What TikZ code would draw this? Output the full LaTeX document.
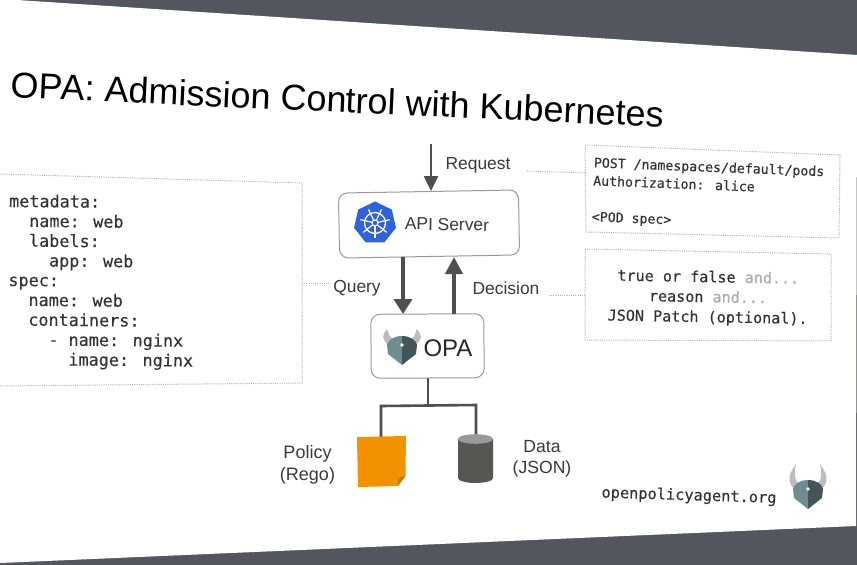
\documentclass[tikz,border=0pt]{standalone}
\usepackage{fontspec}
\setmainfont{Liberation Sans}
\newfontfamily\codefont[FakeBold=0.2]{DejaVu Sans Mono}
\usetikzlibrary{arrows.meta,shapes.geometric}
\definecolor{bandgray}{HTML}{53565F}
\definecolor{inkdark}{HTML}{3A3A3A}
\definecolor{arrowgray}{HTML}{4F4F4F}
\definecolor{boxedge}{HTML}{9A9A9A}
\definecolor{dotgray}{HTML}{B0B0B0}
\definecolor{kubeblue}{HTML}{2F62DC}
\definecolor{policyorange}{HTML}{F39200}
\definecolor{foldorange}{HTML}{B9801F}
\definecolor{cylbody}{HTML}{555753}
\definecolor{cyltop}{HTML}{999999}
\definecolor{shieldl}{HTML}{6F8C93}
\definecolor{shieldr}{HTML}{44555A}
\definecolor{horngray}{HTML}{B9BDBD}
\newcommand{\sz}[1]{\fontsize{#1}{#1}\selectfont}
\newcommand{\andmore}{\textcolor{gray!65}{and...}}
\newcommand{\tipx}{12}
\newcommand{\tipy}{-16}
\newcommand{\bulgey}{-5}
\tikzset{
  servicebox/.style={draw=boxedge,line width=1pt,rounded corners=9pt,fill=white,inner sep=0pt},
  dotline/.style={draw=dotgray,line width=1pt,dash pattern=on 1pt off 1.2pt},
  flowthick/.style={draw=arrowgray,line width=4.6pt,-{Triangle[length=15pt,width=18pt]}},
  flowback/.style={draw=arrowgray,line width=3.8pt,-{Triangle[length=17pt,width=17pt]}},
  flowthin/.style={draw=arrowgray,line width=2.5pt,-{Triangle[length=15pt,width=14pt]}},
  bus/.style={draw=arrowgray,line width=2.6pt},
  lbl/.style={text=inkdark,font=\sz{17.4}},
  code/.style={text=black!80,align=left,inner sep=0pt},
  opalogo/.pic={
    \fill[horngray] (-\tipx,\tipy) .. controls (-20,\bulgey) and (-21,2) .. (-13,10)
      -- (-9,4) .. controls (-14,0) and (-14,-6) .. cycle;
    \fill[horngray] (\tipx,\tipy) .. controls (20,\bulgey) and (21,2) .. (13,10)
      -- (9,4) .. controls (14,0) and (14,-6) .. cycle;
    \fill[shieldl] (0,0) .. controls (-8,0) and (-14,4) .. (-15,9) -- (-14,18) -- (0,29) -- cycle;
    \fill[shieldr] (0,0) .. controls (8,0) and (14,4) .. (15,9) -- (14,18) -- (0,29) -- cycle;
    \fill[white] (0,9) circle (1.8);
  }
}
\begin{document}
\begin{tikzpicture}[x=1pt,y=-1pt]
\useasboundingbox (0,0) rectangle (857,565);
\fill[bandgray] (0,0) rectangle (857,565);
\fill[white] (17,0) -- (857,55) -- (856,526) -- (0,563) -- (0,0) -- cycle;

\node[anchor=west,rotate=-2.6,text=black,font=\sz{36}] (title) at (8,84.5) {OPA: Admission Control with Kubernetes};

% service boxes
\node[servicebox,minimum width=180pt,minimum height=65pt,rotate=1] (api) at (429,224) {};
\node[servicebox,minimum width=113pt,minimum height=64pt,rotate=0.3] (opa) at (427.5,346) {};

% kubernetes logo
\node[regular polygon,regular polygon sides=7,fill=kubeblue,minimum size=43pt,inner sep=0pt] (kube) at (375,223) {};
\draw[white,line width=1.3pt] (kube.center) circle (10.5);
\draw[white,line width=1.1pt] (kube.center) circle (3);
\foreach \a in {90,141.4,192.9,244.3,295.7,347.1,38.6}
  \draw[white,line width=1.2pt] (kube.center) ++(\a:2.5) -- ++(\a:12.5);

\node[text=inkdark,font=\sz{17.4},rotate=-1] (apitext) at (447,224.5) {API Server};
\renewcommand{\tipx}{15}\renewcommand{\tipy}{-7}\renewcommand{\bulgey}{0}
\pic at (402,336) {opalogo};
\node[text=black!85,font=\sz{24}] (opatext) at (448,348) {OPA};

% flows
\coordinate (reqstart) at (431,144);
\draw[flowthin] (reqstart) -- (reqstart |- api.north);
\coordinate (q1) at (403,256.5);
\coordinate (q2) at (403,314);
\draw[flowthick] (q1) -- (q2);
\coordinate (d1) at (454,314);
\coordinate (d2) at (454,257);
\draw[flowback] (d1) -- (d2);

\node[lbl] (request) at (478,165) {Request};
\node[lbl] (query) at (357,288.5) {Query};
\node[lbl] (decision) at (506,288.5) {Decision};

% policy and data
\coordinate (buspt) at (428,405.5);
\coordinate (busl) at (381,406);
\coordinate (busr) at (476,405);
\draw[bus] (428,378) -- (buspt);
\draw[bus,line join=miter] (381,437) -- (busl) -- (busr) -- (476,435);

\fill[policyorange] (357,437) -- (406,436) -- (405.5,476) -- (398,486) -- (358,487) -- cycle;
\fill[foldorange] (405.5,476) -- (398,478) -- (398,486) -- cycle;

\fill[cylbody] (458,439) -- (493,439) -- (493,478) arc[start angle=0,end angle=180,x radius=17.5,y radius=5] -- cycle;
\fill[cyltop] (475.5,439) ellipse (17.5 and 4.8);

\node[text=inkdark,font=\sz{18},align=center] (policy) at (307.5,465) {Policy\\[4pt](Rego)};
\node[text=inkdark,font=\sz{17.6},align=center] (data) at (542,459) {Data\\[3.5pt](JSON)};

% dotted boxes
\coordinate (la) at (0,174);
\coordinate (lb) at (302,183);
\coordinate (lc) at (302,383);
\coordinate (ld) at (0,386);
\draw[dotline] (la) -- (lb) -- (lc) -- (ld);
\coordinate (ra) at (585,145);
\coordinate (rb) at (840,155);
\coordinate (rc) at (839,238);
\coordinate (rd) at (586,232);
\draw[dotline] (ra) -- (rb) -- (rc) -- (rd) -- cycle;
\coordinate (sa) at (585,249);
\coordinate (sb) at (831,254);
\coordinate (sc) at (831,341);
\coordinate (sd) at (585,340);
\draw[dotline] (sa) -- (sb) -- (sc) -- (sd) -- cycle;

% dotted leaders
\draw[dotline] (lc |- 0,283) -- (query.west |- 0,283);
\coordinate (reqdot) at (527,171);
\coordinate (reqdotend) at (585,173);
\draw[dotline] (reqdot) -- (reqdotend);
\coordinate (decdot) at (549,295);
\coordinate (decdotend) at (585,295);
\draw[dotline] (decdot) -- (decdotend);

% code
\node[code,anchor=north west,rotate=-0.5,font={\codefont\fontsize{16.8}{19.75}\selectfont}] (yaml) at (9,194) {metadata:\\
\ \ name: web\\
\ \ labels:\\
\ \ \ \ app: web\\
spec:\\
\ \ name: web\\
\ \ containers:\\
\ \ \ \ - name: nginx\\
\ \ \ \ \ \ image: nginx};

\node[code,anchor=north west,rotate=-2.2,font={\codefont\fontsize{13.2}{18}\selectfont}] (req) at (594,157) {POST /namespaces/default/pods\\
Authorization: alice\\
\ \\
<POD spec>};

\node[code,align=center,rotate=-1,font={\codefont\fontsize{15.1}{20}\selectfont}] (dec) at (708,298) {true or false \andmore\\
reason \andmore\\
JSON Patch (optional).};

\node[text=black!80,rotate=-1.8,font={\codefont\fontsize{15.3}{18}\selectfont},inner sep=0pt] (site) at (689,496) {openpolicyagent.org};
\renewcommand{\tipx}{12}\renewcommand{\tipy}{-16}\renewcommand{\bulgey}{-5}
\pic at (808,480) {opalogo};
\end{tikzpicture}
\end{document}
